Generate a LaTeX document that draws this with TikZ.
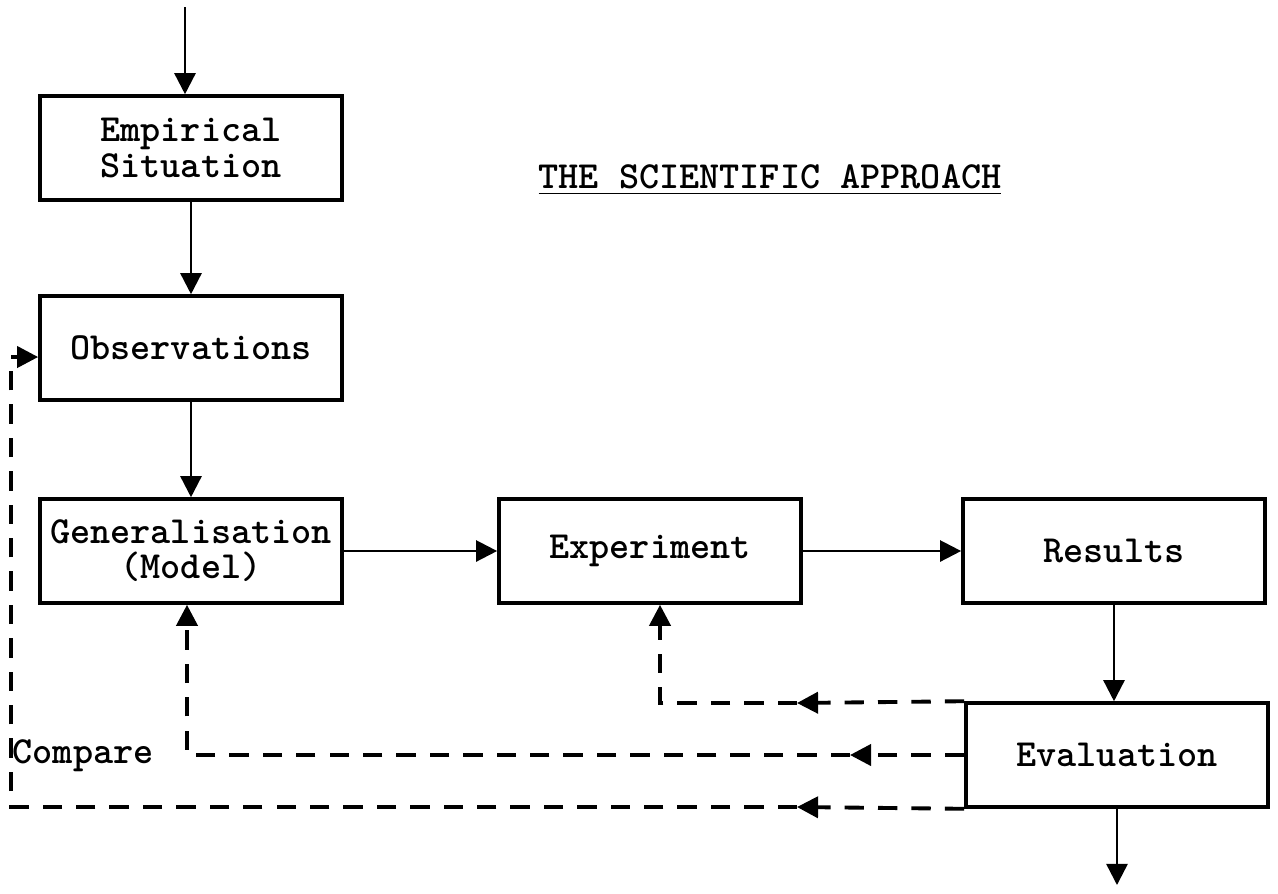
\documentclass[tikz,border=0pt]{standalone}
\usetikzlibrary{arrows.meta, positioning, calc}

\begin{document}
\begin{tikzpicture}[x=0.01cm, y=-0.01cm,
  box/.style={draw, line width=1pt, minimum width=3.02cm, minimum height=1.04cm,
    inner sep=0pt, align=center, font=\ttfamily\bfseries\fontsize{10.9}{10}\selectfont},
  flow/.style={line width=0.7pt, -{Triangle[length=6pt, width=6pt]}},
  back/.style={line width=1.1pt, dash pattern=on 5.5pt off 4pt},
  backtip/.style={back, -{Triangle[length=6pt, width=6pt]}}]
  \useasboundingbox (0,0) rectangle (1278,893);
  % boxes
  \node[box] (emp) at (191,148) {Empirical\\Situation};
  \node[box] (obs) at (191,348) {Observations};
  \node[box] (gen) at (191,551) {Generalisation\\(Model)};
  \node[box] (exp) at (650,551) {Experiment};
  \node[box] (res) at (1114,551) {Results};
  \node[box] (eva) at (1117,755) {Evaluation};
  \node[anchor=base, font=\ttfamily\bfseries\fontsize{10.9}{10}\selectfont] (title) at (770,188) {\underline{THE SCIENTIFIC APPROACH}};
  \node[anchor=west, inner sep=0pt, font=\ttfamily\bfseries\fontsize{10.9}{10}\selectfont] (cmp) at (12,756) {Compare};
  % main flow
  \coordinate (in) at (185,7);
  \coordinate (out) at (1117,885);
  \draw[flow] (in) -- (in |- emp.north);
  \draw[flow] (emp) -- (obs);
  \draw[flow] (obs) -- (gen);
  \draw[flow] (gen) -- (exp);
  \draw[flow] (exp) -- (res);
  \draw[flow] (res.south) -- (res.south |- eva.north);
  \draw[flow] (eva) -- (out);
  % feedback
  \coordinate (m1) at (797,703);
  \coordinate (m2) at (850,755);
  \coordinate (m3) at (797,807);
  \coordinate (turn) at (11,807);
  \draw[backtip] (eva.north west) -- (m1);
  \draw[backtip] (m1) -| ([xshift=0.1cm]exp.south);
  \draw[backtip] (eva.west) -- (m2);
  \draw[backtip] (m2) -| ([xshift=-0.04cm]gen.south);
  \draw[backtip] (eva.south west) -- (m3);
  \draw[backtip] (m3) -- (turn) |- ([yshift=-0.09cm]obs.west);
\end{tikzpicture}
\end{document}
